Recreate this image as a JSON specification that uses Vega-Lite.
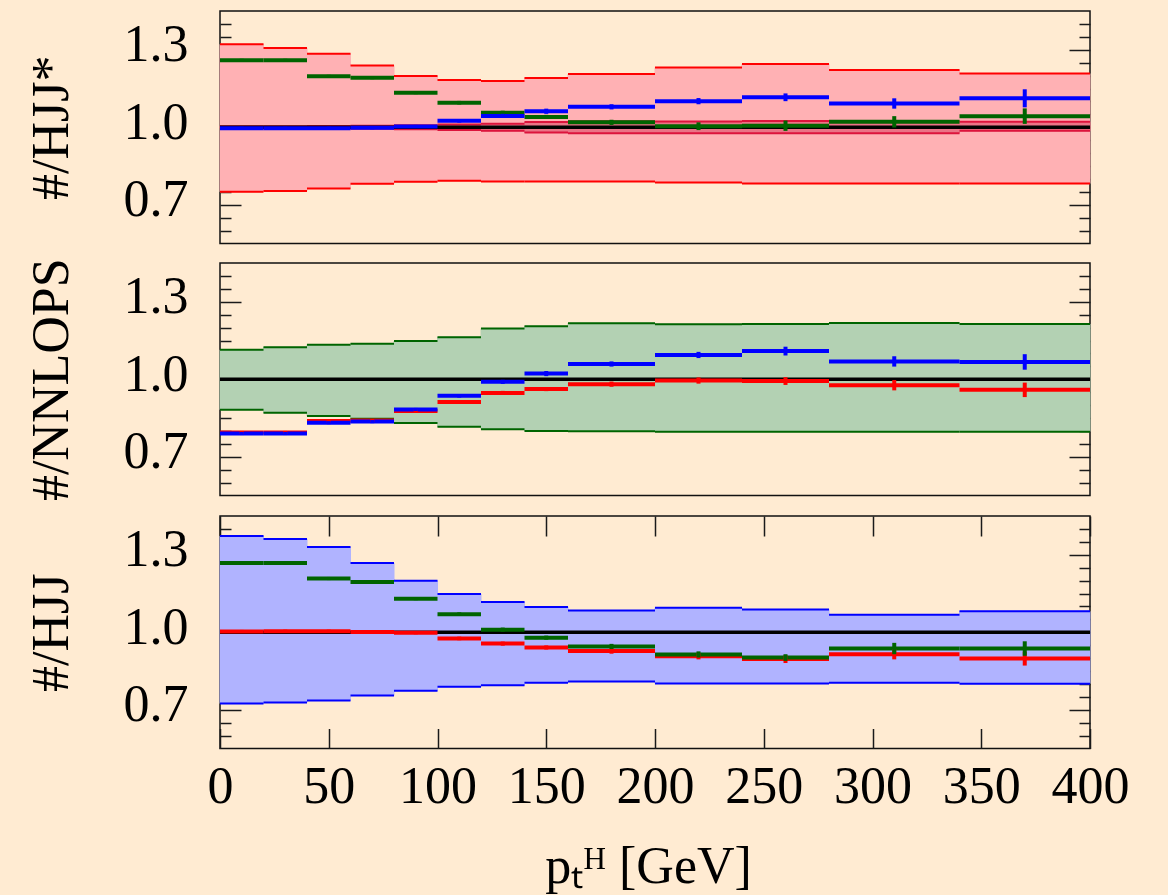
{
  "$schema": "https://vega.github.io/schema/vega-lite/v6.json",
  "background": "#FFEBD2",
  "padding": {"left": 24, "top": 10, "right": 38, "bottom": 1},
  "spacing": 12,
  "config": {
    "view": {"stroke": "#111111", "strokeWidth": 1.5},
    "axis": {"labelFont": "Liberation Serif", "titleFont": "Liberation Serif", "labelColor": "black", "titleColor": "black", "tickColor": "#1a1a1a", "tickWidth": 1.5, "domain": false, "grid": false, "labelOverlap": false, "titleFontWeight": "normal"}
  },
  "datasets": {
    "bands": [
      {"p":1,"lo":0,"hi":20,"blo":0.750,"bhi":1.321},{"p":1,"lo":20,"hi":40,"blo":0.753,"bhi":1.307},{"p":1,"lo":40,"hi":60,"blo":0.763,"bhi":1.285},{"p":1,"lo":60,"hi":80,"blo":0.781,"bhi":1.239},{"p":1,"lo":80,"hi":100,"blo":0.789,"bhi":1.198},{"p":1,"lo":100,"hi":120,"blo":0.793,"bhi":1.183},{"p":1,"lo":120,"hi":140,"blo":0.790,"bhi":1.179},{"p":1,"lo":140,"hi":160,"blo":0.790,"bhi":1.191},{"p":1,"lo":160,"hi":200,"blo":0.790,"bhi":1.206},{"p":1,"lo":200,"hi":240,"blo":0.786,"bhi":1.231},{"p":1,"lo":240,"hi":280,"blo":0.782,"bhi":1.245},{"p":1,"lo":280,"hi":340,"blo":0.782,"bhi":1.222},{"p":1,"lo":340,"hi":400,"blo":0.782,"bhi":1.208},
      {"p":2,"lo":0,"hi":20,"blo":0.882,"bhi":1.114},{"p":2,"lo":20,"hi":40,"blo":0.870,"bhi":1.124},{"p":2,"lo":40,"hi":60,"blo":0.858,"bhi":1.134},{"p":2,"lo":60,"hi":80,"blo":0.847,"bhi":1.137},{"p":2,"lo":80,"hi":100,"blo":0.831,"bhi":1.148},{"p":2,"lo":100,"hi":120,"blo":0.816,"bhi":1.163},{"p":2,"lo":120,"hi":140,"blo":0.806,"bhi":1.196},{"p":2,"lo":140,"hi":160,"blo":0.800,"bhi":1.205},{"p":2,"lo":160,"hi":200,"blo":0.799,"bhi":1.217},{"p":2,"lo":200,"hi":240,"blo":0.797,"bhi":1.213},{"p":2,"lo":240,"hi":280,"blo":0.797,"bhi":1.214},{"p":2,"lo":280,"hi":340,"blo":0.797,"bhi":1.218},{"p":2,"lo":340,"hi":400,"blo":0.797,"bhi":1.214},
      {"p":3,"lo":0,"hi":20,"blo":0.724,"bhi":1.373},{"p":3,"lo":20,"hi":40,"blo":0.728,"bhi":1.361},{"p":3,"lo":40,"hi":60,"blo":0.736,"bhi":1.330},{"p":3,"lo":60,"hi":80,"blo":0.755,"bhi":1.268},{"p":3,"lo":80,"hi":100,"blo":0.774,"bhi":1.199},{"p":3,"lo":100,"hi":120,"blo":0.789,"bhi":1.148},{"p":3,"lo":120,"hi":140,"blo":0.795,"bhi":1.117},{"p":3,"lo":140,"hi":160,"blo":0.805,"bhi":1.098},{"p":3,"lo":160,"hi":200,"blo":0.809,"bhi":1.084},{"p":3,"lo":200,"hi":240,"blo":0.802,"bhi":1.095},{"p":3,"lo":240,"hi":280,"blo":0.802,"bhi":1.088},{"p":3,"lo":280,"hi":340,"blo":0.805,"bhi":1.068},{"p":3,"lo":340,"hi":400,"blo":0.801,"bhi":1.081}
    ],
    "stat": [
      {"lo":0,"hi":20,"slo":0.996,"shi":1.004},{"lo":20,"hi":40,"slo":0.996,"shi":1.004},{"lo":40,"hi":60,"slo":0.995,"shi":1.005},{"lo":60,"hi":80,"slo":0.994,"shi":1.006},{"lo":80,"hi":100,"slo":0.992,"shi":1.008},{"lo":100,"hi":120,"slo":0.989,"shi":1.011},{"lo":120,"hi":140,"slo":0.986,"shi":1.014},{"lo":140,"hi":160,"slo":0.980,"shi":1.020},{"lo":160,"hi":200,"slo":0.977,"shi":1.023},{"lo":200,"hi":240,"slo":0.977,"shi":1.022},{"lo":240,"hi":280,"slo":0.977,"shi":1.024},{"lo":280,"hi":340,"slo":0.977,"shi":1.023},{"lo":340,"hi":400,"slo":0.986,"shi":1.021}
    ],
    "pts": [
      {"p":1,"g":"NNLOPS","lo":0,"hi":20,"mid":10,"v":1.259,"elo":1.253,"ehi":1.265},{"p":1,"g":"NNLOPS","lo":20,"hi":40,"mid":30,"v":1.259,"elo":1.253,"ehi":1.265},{"p":1,"g":"NNLOPS","lo":40,"hi":60,"mid":50,"v":1.197,"elo":1.191,"ehi":1.203},{"p":1,"g":"NNLOPS","lo":60,"hi":80,"mid":70,"v":1.192,"elo":1.186,"ehi":1.198},{"p":1,"g":"NNLOPS","lo":80,"hi":100,"mid":90,"v":1.134,"elo":1.128,"ehi":1.140},{"p":1,"g":"NNLOPS","lo":100,"hi":120,"mid":110,"v":1.095,"elo":1.088,"ehi":1.102},{"p":1,"g":"NNLOPS","lo":120,"hi":140,"mid":130,"v":1.056,"elo":1.048,"ehi":1.064},{"p":1,"g":"NNLOPS","lo":140,"hi":160,"mid":150,"v":1.040,"elo":1.032,"ehi":1.048},{"p":1,"g":"NNLOPS","lo":160,"hi":200,"mid":180,"v":1.019,"elo":1.009,"ehi":1.029},{"p":1,"g":"NNLOPS","lo":200,"hi":240,"mid":220,"v":1.004,"elo":0.989,"ehi":1.019},{"p":1,"g":"NNLOPS","lo":240,"hi":280,"mid":260,"v":1.006,"elo":0.986,"ehi":1.026},{"p":1,"g":"NNLOPS","lo":280,"hi":340,"mid":310,"v":1.021,"elo":0.999,"ehi":1.043},{"p":1,"g":"NNLOPS","lo":340,"hi":400,"mid":370,"v":1.043,"elo":1.013,"ehi":1.073},
      {"p":1,"g":"HJJ","lo":0,"hi":20,"mid":10,"v":0.996,"elo":0.990,"ehi":1.002},{"p":1,"g":"HJJ","lo":20,"hi":40,"mid":30,"v":0.996,"elo":0.990,"ehi":1.002},{"p":1,"g":"HJJ","lo":40,"hi":60,"mid":50,"v":0.996,"elo":0.990,"ehi":1.002},{"p":1,"g":"HJJ","lo":60,"hi":80,"mid":70,"v":0.998,"elo":0.992,"ehi":1.004},{"p":1,"g":"HJJ","lo":80,"hi":100,"mid":90,"v":1.003,"elo":0.997,"ehi":1.009},{"p":1,"g":"HJJ","lo":100,"hi":120,"mid":110,"v":1.025,"elo":1.018,"ehi":1.032},{"p":1,"g":"HJJ","lo":120,"hi":140,"mid":130,"v":1.044,"elo":1.036,"ehi":1.052},{"p":1,"g":"HJJ","lo":140,"hi":160,"mid":150,"v":1.062,"elo":1.052,"ehi":1.072},{"p":1,"g":"HJJ","lo":160,"hi":200,"mid":180,"v":1.079,"elo":1.069,"ehi":1.089},{"p":1,"g":"HJJ","lo":200,"hi":240,"mid":220,"v":1.101,"elo":1.089,"ehi":1.113},{"p":1,"g":"HJJ","lo":240,"hi":280,"mid":260,"v":1.116,"elo":1.101,"ehi":1.131},{"p":1,"g":"HJJ","lo":280,"hi":340,"mid":310,"v":1.092,"elo":1.072,"ehi":1.112},{"p":1,"g":"HJJ","lo":340,"hi":400,"mid":370,"v":1.112,"elo":1.077,"ehi":1.147},
      {"p":2,"g":"HJJ*","lo":0,"hi":20,"mid":10,"v":0.794,"elo":0.788,"ehi":0.800},{"p":2,"g":"HJJ*","lo":20,"hi":40,"mid":30,"v":0.794,"elo":0.788,"ehi":0.800},{"p":2,"g":"HJJ*","lo":40,"hi":60,"mid":50,"v":0.838,"elo":0.832,"ehi":0.844},{"p":2,"g":"HJJ*","lo":60,"hi":80,"mid":70,"v":0.840,"elo":0.834,"ehi":0.846},{"p":2,"g":"HJJ*","lo":80,"hi":100,"mid":90,"v":0.877,"elo":0.871,"ehi":0.883},{"p":2,"g":"HJJ*","lo":100,"hi":120,"mid":110,"v":0.912,"elo":0.905,"ehi":0.919},{"p":2,"g":"HJJ*","lo":120,"hi":140,"mid":130,"v":0.947,"elo":0.939,"ehi":0.955},{"p":2,"g":"HJJ*","lo":140,"hi":160,"mid":150,"v":0.962,"elo":0.954,"ehi":0.970},{"p":2,"g":"HJJ*","lo":160,"hi":200,"mid":180,"v":0.981,"elo":0.971,"ehi":0.991},{"p":2,"g":"HJJ*","lo":200,"hi":240,"mid":220,"v":0.995,"elo":0.983,"ehi":1.007},{"p":2,"g":"HJJ*","lo":240,"hi":280,"mid":260,"v":0.993,"elo":0.978,"ehi":1.008},{"p":2,"g":"HJJ*","lo":280,"hi":340,"mid":310,"v":0.977,"elo":0.957,"ehi":0.997},{"p":2,"g":"HJJ*","lo":340,"hi":400,"mid":370,"v":0.959,"elo":0.931,"ehi":0.987},
      {"p":2,"g":"HJJ","lo":0,"hi":20,"mid":10,"v":0.790,"elo":0.784,"ehi":0.796},{"p":2,"g":"HJJ","lo":20,"hi":40,"mid":30,"v":0.790,"elo":0.784,"ehi":0.796},{"p":2,"g":"HJJ","lo":40,"hi":60,"mid":50,"v":0.832,"elo":0.826,"ehi":0.838},{"p":2,"g":"HJJ","lo":60,"hi":80,"mid":70,"v":0.836,"elo":0.830,"ehi":0.842},{"p":2,"g":"HJJ","lo":80,"hi":100,"mid":90,"v":0.883,"elo":0.877,"ehi":0.889},{"p":2,"g":"HJJ","lo":100,"hi":120,"mid":110,"v":0.936,"elo":0.929,"ehi":0.943},{"p":2,"g":"HJJ","lo":120,"hi":140,"mid":130,"v":0.990,"elo":0.982,"ehi":0.998},{"p":2,"g":"HJJ","lo":140,"hi":160,"mid":150,"v":1.022,"elo":1.012,"ehi":1.032},{"p":2,"g":"HJJ","lo":160,"hi":200,"mid":180,"v":1.059,"elo":1.049,"ehi":1.069},{"p":2,"g":"HJJ","lo":200,"hi":240,"mid":220,"v":1.094,"elo":1.082,"ehi":1.106},{"p":2,"g":"HJJ","lo":240,"hi":280,"mid":260,"v":1.109,"elo":1.092,"ehi":1.126},{"p":2,"g":"HJJ","lo":280,"hi":340,"mid":310,"v":1.069,"elo":1.049,"ehi":1.089},{"p":2,"g":"HJJ","lo":340,"hi":400,"mid":370,"v":1.067,"elo":1.037,"ehi":1.097},
      {"p":3,"g":"HJJ*","lo":0,"hi":20,"mid":10,"v":1.003,"elo":0.997,"ehi":1.009},{"p":3,"g":"HJJ*","lo":20,"hi":40,"mid":30,"v":1.004,"elo":0.998,"ehi":1.010},{"p":3,"g":"HJJ*","lo":40,"hi":60,"mid":50,"v":1.004,"elo":0.998,"ehi":1.010},{"p":3,"g":"HJJ*","lo":60,"hi":80,"mid":70,"v":1.001,"elo":0.995,"ehi":1.007},{"p":3,"g":"HJJ*","lo":80,"hi":100,"mid":90,"v":0.998,"elo":0.992,"ehi":1.004},{"p":3,"g":"HJJ*","lo":100,"hi":120,"mid":110,"v":0.976,"elo":0.969,"ehi":0.983},{"p":3,"g":"HJJ*","lo":120,"hi":140,"mid":130,"v":0.956,"elo":0.948,"ehi":0.964},{"p":3,"g":"HJJ*","lo":140,"hi":160,"mid":150,"v":0.941,"elo":0.933,"ehi":0.949},{"p":3,"g":"HJJ*","lo":160,"hi":200,"mid":180,"v":0.927,"elo":0.917,"ehi":0.937},{"p":3,"g":"HJJ*","lo":200,"hi":240,"mid":220,"v":0.907,"elo":0.895,"ehi":0.919},{"p":3,"g":"HJJ*","lo":240,"hi":280,"mid":260,"v":0.896,"elo":0.881,"ehi":0.911},{"p":3,"g":"HJJ*","lo":280,"hi":340,"mid":310,"v":0.915,"elo":0.895,"ehi":0.935},{"p":3,"g":"HJJ*","lo":340,"hi":400,"mid":370,"v":0.898,"elo":0.871,"ehi":0.925},
      {"p":3,"g":"NNLOPS","lo":0,"hi":20,"mid":10,"v":1.268,"elo":1.262,"ehi":1.274},{"p":3,"g":"NNLOPS","lo":20,"hi":40,"mid":30,"v":1.268,"elo":1.262,"ehi":1.274},{"p":3,"g":"NNLOPS","lo":40,"hi":60,"mid":50,"v":1.208,"elo":1.202,"ehi":1.214},{"p":3,"g":"NNLOPS","lo":60,"hi":80,"mid":70,"v":1.195,"elo":1.189,"ehi":1.201},{"p":3,"g":"NNLOPS","lo":80,"hi":100,"mid":90,"v":1.130,"elo":1.124,"ehi":1.136},{"p":3,"g":"NNLOPS","lo":100,"hi":120,"mid":110,"v":1.070,"elo":1.063,"ehi":1.077},{"p":3,"g":"NNLOPS","lo":120,"hi":140,"mid":130,"v":1.010,"elo":1.002,"ehi":1.018},{"p":3,"g":"NNLOPS","lo":140,"hi":160,"mid":150,"v":0.979,"elo":0.971,"ehi":0.987},{"p":3,"g":"NNLOPS","lo":160,"hi":200,"mid":180,"v":0.945,"elo":0.935,"ehi":0.955},{"p":3,"g":"NNLOPS","lo":200,"hi":240,"mid":220,"v":0.914,"elo":0.902,"ehi":0.926},{"p":3,"g":"NNLOPS","lo":240,"hi":280,"mid":260,"v":0.902,"elo":0.889,"ehi":0.915},{"p":3,"g":"NNLOPS","lo":280,"hi":340,"mid":310,"v":0.937,"elo":0.915,"ehi":0.959},{"p":3,"g":"NNLOPS","lo":340,"hi":400,"mid":370,"v":0.937,"elo":0.909,"ehi":0.965}
    ]
  },
  "vconcat": [
    {
      "width": 870, "height": 232.5,
      "resolve": {"axis": {"x": "independent", "y": "independent"}},
      "layer": [
        {"data": {"name": "bands"}, "transform": [{"filter": "datum.p == 1"}], "mark": {"type": "rect", "fill": "#FFB1B4", "stroke": "#FFB1B4", "strokeWidth": 1},
         "encoding": {
           "x": {"field": "lo", "type": "quantitative", "scale": {"domain": [0, 400], "nice": false, "zero": false}, "axis": null},
           "x2": {"field": "hi"},
           "y": {"field": "bhi", "type": "quantitative", "scale": {"domain": [0.55, 1.45], "nice": false, "zero": false},
             "axis": {"orient": "left", "values": [0.6,0.65,0.7,0.75,0.8,0.85,0.9,0.95,1,1.05,1.1,1.15,1.2,1.25,1.3,1.35,1.4],
               "tickSize": {"condition": {"test": "abs(datum.value-0.7)<0.001 || abs(datum.value-1)<0.001 || abs(datum.value-1.3)<0.001", "value": -21}, "value": -11},
               "labelExpr": "abs(datum.value-0.7)<0.001 ? '0.7' : abs(datum.value-1)<0.001 ? '1.0' : abs(datum.value-1.3)<0.001 ? '1.3' : ''",
               "labelFontSize": {"condition": {"test": "abs(datum.value-0.7)<0.001 || abs(datum.value-1)<0.001 || abs(datum.value-1.3)<0.001", "value": 52}, "value": 0},
               "labelPadding": 53, "labelBaseline": "middle", "labelOffset": -5, "labelAlign": "right",
               "title": "#/HJJ*", "titleFontSize": 52, "titleAngle": -90, "titleX": -153, "titleY": 116.25, "titleAlign": "center", "titleBaseline": "alphabetic"}},
           "y2": {"field": "blo"}
         }},
        {"data": {"name": "bands"}, "transform": [{"filter": "datum.p == 1"}], "mark": {"type": "rule", "stroke": "#FF0000", "strokeWidth": 2},
         "encoding": {"x": {"field": "lo", "type": "quantitative", "scale": {"domain": [0, 400], "nice": false, "zero": false}, "axis": null}, "x2": {"field": "hi"},
           "y": {"field": "bhi", "type": "quantitative", "scale": {"domain": [0.55, 1.45], "nice": false, "zero": false}, "axis": null}}},
        {"data": {"name": "bands"}, "transform": [{"filter": "datum.p == 1"}], "mark": {"type": "rule", "stroke": "#FF0000", "strokeWidth": 2},
         "encoding": {"x": {"field": "lo", "type": "quantitative", "scale": {"domain": [0, 400], "nice": false, "zero": false}, "axis": null}, "x2": {"field": "hi"},
           "y": {"field": "blo", "type": "quantitative", "scale": {"domain": [0.55, 1.45], "nice": false, "zero": false}, "axis": null}}},
        {"data": {"name": "stat"}, "mark": {"type": "rect", "fill": "#EA7486", "stroke": "#EA7486", "strokeWidth": 1},
         "encoding": {"x": {"field": "lo", "type": "quantitative", "scale": {"domain": [0, 400], "nice": false, "zero": false}, "axis": null}, "x2": {"field": "hi"},
           "y": {"field": "shi", "type": "quantitative", "scale": {"domain": [0.55, 1.45], "nice": false, "zero": false}, "axis": null}, "y2": {"field": "slo"}}},
        {"data": {"name": "stat"}, "mark": {"type": "rule", "stroke": "#DC143C", "strokeWidth": 2},
         "encoding": {"x": {"field": "lo", "type": "quantitative", "scale": {"domain": [0, 400], "nice": false, "zero": false}, "axis": null}, "x2": {"field": "hi"},
           "y": {"field": "shi", "type": "quantitative", "scale": {"domain": [0.55, 1.45], "nice": false, "zero": false}, "axis": null}}},
        {"data": {"name": "stat"}, "mark": {"type": "rule", "stroke": "#DC143C", "strokeWidth": 2},
         "encoding": {"x": {"field": "lo", "type": "quantitative", "scale": {"domain": [0, 400], "nice": false, "zero": false}, "axis": null}, "x2": {"field": "hi"},
           "y": {"field": "slo", "type": "quantitative", "scale": {"domain": [0.55, 1.45], "nice": false, "zero": false}, "axis": null}}},
        {"data": {"values": [{"ref": 1}]}, "mark": {"type": "rule", "stroke": "#000000", "strokeWidth": 3.4},
         "encoding": {"y": {"field": "ref", "type": "quantitative", "scale": {"domain": [0.55, 1.45], "nice": false, "zero": false},
           "axis": {"orient": "right", "values": [0.6,0.65,0.7,0.75,0.8,0.85,0.9,0.95,1,1.05,1.1,1.15,1.2,1.25,1.3,1.35,1.4],
             "tickSize": {"condition": {"test": "abs(datum.value-0.7)<0.001 || abs(datum.value-1)<0.001 || abs(datum.value-1.3)<0.001", "value": -21}, "value": -11},
             "labels": false, "title": null}}}},
        {"data": {"name": "pts"}, "transform": [{"filter": "datum.p == 1"}], "mark": {"type": "rule", "strokeWidth": 4},
         "encoding": {"x": {"field": "lo", "type": "quantitative", "scale": {"domain": [0, 400], "nice": false, "zero": false}, "axis": null}, "x2": {"field": "hi"},
           "y": {"field": "v", "type": "quantitative", "scale": {"domain": [0.55, 1.45], "nice": false, "zero": false}, "axis": null},
           "color": {"field": "g", "type": "nominal", "scale": {"domain": ["HJJ*", "NNLOPS", "HJJ"], "range": ["#FF0000", "#006400", "#0000FF"]}, "legend": null}}},
        {"data": {"name": "pts"}, "transform": [{"filter": "datum.p == 1"}], "mark": {"type": "rule", "strokeWidth": 4},
         "encoding": {"x": {"field": "mid", "type": "quantitative", "scale": {"domain": [0, 400], "nice": false, "zero": false}, "axis": null},
           "y": {"field": "elo", "type": "quantitative", "scale": {"domain": [0.55, 1.45], "nice": false, "zero": false}, "axis": null}, "y2": {"field": "ehi"},
           "color": {"field": "g", "type": "nominal", "scale": {"domain": ["HJJ*", "NNLOPS", "HJJ"], "range": ["#FF0000", "#006400", "#0000FF"]}, "legend": null}}}
      ]
    },
    {
      "width": 870, "height": 232.5,
      "resolve": {"axis": {"x": "independent", "y": "independent"}},
      "layer": [
        {"data": {"name": "bands"}, "transform": [{"filter": "datum.p == 2"}], "mark": {"type": "rect", "fill": "#B3D1B3", "stroke": "#B3D1B3", "strokeWidth": 1},
         "encoding": {
           "x": {"field": "lo", "type": "quantitative", "scale": {"domain": [0, 400], "nice": false, "zero": false}, "axis": null},
           "x2": {"field": "hi"},
           "y": {"field": "bhi", "type": "quantitative", "scale": {"domain": [0.55, 1.45], "nice": false, "zero": false},
             "axis": {"orient": "left", "values": [0.6,0.65,0.7,0.75,0.8,0.85,0.9,0.95,1,1.05,1.1,1.15,1.2,1.25,1.3,1.35,1.4],
               "tickSize": {"condition": {"test": "abs(datum.value-0.7)<0.001 || abs(datum.value-1)<0.001 || abs(datum.value-1.3)<0.001", "value": -21}, "value": -11},
               "labelExpr": "abs(datum.value-0.7)<0.001 ? '0.7' : abs(datum.value-1)<0.001 ? '1.0' : abs(datum.value-1.3)<0.001 ? '1.3' : ''",
               "labelFontSize": {"condition": {"test": "abs(datum.value-0.7)<0.001 || abs(datum.value-1)<0.001 || abs(datum.value-1.3)<0.001", "value": 52}, "value": 0},
               "labelPadding": 53, "labelBaseline": "middle", "labelOffset": -5, "labelAlign": "right",
               "title": "#/NNLOPS", "titleFontSize": 52, "titleAngle": -90, "titleX": -153, "titleY": 116.25, "titleAlign": "center", "titleBaseline": "alphabetic"}},
           "y2": {"field": "blo"}
         }},
        {"data": {"name": "bands"}, "transform": [{"filter": "datum.p == 2"}], "mark": {"type": "rule", "stroke": "#006400", "strokeWidth": 2},
         "encoding": {"x": {"field": "lo", "type": "quantitative", "scale": {"domain": [0, 400], "nice": false, "zero": false}, "axis": null}, "x2": {"field": "hi"},
           "y": {"field": "bhi", "type": "quantitative", "scale": {"domain": [0.55, 1.45], "nice": false, "zero": false}, "axis": null}}},
        {"data": {"name": "bands"}, "transform": [{"filter": "datum.p == 2"}], "mark": {"type": "rule", "stroke": "#006400", "strokeWidth": 2},
         "encoding": {"x": {"field": "lo", "type": "quantitative", "scale": {"domain": [0, 400], "nice": false, "zero": false}, "axis": null}, "x2": {"field": "hi"},
           "y": {"field": "blo", "type": "quantitative", "scale": {"domain": [0.55, 1.45], "nice": false, "zero": false}, "axis": null}}},
        {"data": {"values": [{"ref": 1}]}, "mark": {"type": "rule", "stroke": "#000000", "strokeWidth": 3.4},
         "encoding": {"y": {"field": "ref", "type": "quantitative", "scale": {"domain": [0.55, 1.45], "nice": false, "zero": false},
           "axis": {"orient": "right", "values": [0.6,0.65,0.7,0.75,0.8,0.85,0.9,0.95,1,1.05,1.1,1.15,1.2,1.25,1.3,1.35,1.4],
             "tickSize": {"condition": {"test": "abs(datum.value-0.7)<0.001 || abs(datum.value-1)<0.001 || abs(datum.value-1.3)<0.001", "value": -21}, "value": -11},
             "labels": false, "title": null}}}},
        {"data": {"name": "pts"}, "transform": [{"filter": "datum.p == 2"}], "mark": {"type": "rule", "strokeWidth": 4},
         "encoding": {"x": {"field": "lo", "type": "quantitative", "scale": {"domain": [0, 400], "nice": false, "zero": false}, "axis": null}, "x2": {"field": "hi"},
           "y": {"field": "v", "type": "quantitative", "scale": {"domain": [0.55, 1.45], "nice": false, "zero": false}, "axis": null},
           "color": {"field": "g", "type": "nominal", "scale": {"domain": ["HJJ*", "NNLOPS", "HJJ"], "range": ["#FF0000", "#006400", "#0000FF"]}, "legend": null}}},
        {"data": {"name": "pts"}, "transform": [{"filter": "datum.p == 2"}], "mark": {"type": "rule", "strokeWidth": 4},
         "encoding": {"x": {"field": "mid", "type": "quantitative", "scale": {"domain": [0, 400], "nice": false, "zero": false}, "axis": null},
           "y": {"field": "elo", "type": "quantitative", "scale": {"domain": [0.55, 1.45], "nice": false, "zero": false}, "axis": null}, "y2": {"field": "ehi"},
           "color": {"field": "g", "type": "nominal", "scale": {"domain": ["HJJ*", "NNLOPS", "HJJ"], "range": ["#FF0000", "#006400", "#0000FF"]}, "legend": null}}}
      ]
    },
    {
      "width": 870, "height": 232.5,
      "resolve": {"axis": {"x": "independent", "y": "independent"}},
      "layer": [
        {"data": {"name": "bands"}, "transform": [{"filter": "datum.p == 3"}], "mark": {"type": "rect", "fill": "#B0B3FF", "stroke": "#B0B3FF", "strokeWidth": 1},
         "encoding": {
           "x": {"field": "lo", "type": "quantitative", "scale": {"domain": [0, 400], "nice": false, "zero": false},
             "axis": {"orient": "bottom", "values": [0,50,100,150,200,250,300,350,400], "tickSize": -20, "labelFontSize": 52, "labelPadding": 33, "labelFlush": false, "labelBaseline": "top",
               "title": "pₜᴴ [GeV]", "titleFontSize": 52, "titleX": 428, "titleY": 134, "titleAlign": "center", "titleBaseline": "alphabetic"}},
           "x2": {"field": "hi"},
           "y": {"field": "bhi", "type": "quantitative", "scale": {"domain": [0.55, 1.45], "nice": false, "zero": false},
             "axis": {"orient": "left", "values": [0.6,0.65,0.7,0.75,0.8,0.85,0.9,0.95,1,1.05,1.1,1.15,1.2,1.25,1.3,1.35,1.4],
               "tickSize": {"condition": {"test": "abs(datum.value-0.7)<0.001 || abs(datum.value-1)<0.001 || abs(datum.value-1.3)<0.001", "value": -21}, "value": -11},
               "labelExpr": "abs(datum.value-0.7)<0.001 ? '0.7' : abs(datum.value-1)<0.001 ? '1.0' : abs(datum.value-1.3)<0.001 ? '1.3' : ''",
               "labelFontSize": {"condition": {"test": "abs(datum.value-0.7)<0.001 || abs(datum.value-1)<0.001 || abs(datum.value-1.3)<0.001", "value": 52}, "value": 0},
               "labelPadding": 53, "labelBaseline": "middle", "labelOffset": -5, "labelAlign": "right",
               "title": "#/HJJ", "titleFontSize": 52, "titleAngle": -90, "titleX": -153, "titleY": 116.25, "titleAlign": "center", "titleBaseline": "alphabetic"}},
           "y2": {"field": "blo"}
         }},
        {"data": {"name": "bands"}, "transform": [{"filter": "datum.p == 3"}], "mark": {"type": "rule", "stroke": "#0000FF", "strokeWidth": 2},
         "encoding": {"x": {"field": "lo", "type": "quantitative", "scale": {"domain": [0, 400], "nice": false, "zero": false},
             "axis": {"orient": "top", "values": [0,50,100,150,200,250,300,350,400], "tickSize": -20, "labels": false, "title": null}}, "x2": {"field": "hi"},
           "y": {"field": "bhi", "type": "quantitative", "scale": {"domain": [0.55, 1.45], "nice": false, "zero": false}, "axis": null}}},
        {"data": {"name": "bands"}, "transform": [{"filter": "datum.p == 3"}], "mark": {"type": "rule", "stroke": "#0000FF", "strokeWidth": 2},
         "encoding": {"x": {"field": "lo", "type": "quantitative", "scale": {"domain": [0, 400], "nice": false, "zero": false}, "axis": null}, "x2": {"field": "hi"},
           "y": {"field": "blo", "type": "quantitative", "scale": {"domain": [0.55, 1.45], "nice": false, "zero": false}, "axis": null}}},
        {"data": {"values": [{"ref": 1}]}, "mark": {"type": "rule", "stroke": "#000000", "strokeWidth": 3.4},
         "encoding": {"y": {"field": "ref", "type": "quantitative", "scale": {"domain": [0.55, 1.45], "nice": false, "zero": false},
           "axis": {"orient": "right", "values": [0.6,0.65,0.7,0.75,0.8,0.85,0.9,0.95,1,1.05,1.1,1.15,1.2,1.25,1.3,1.35,1.4],
             "tickSize": {"condition": {"test": "abs(datum.value-0.7)<0.001 || abs(datum.value-1)<0.001 || abs(datum.value-1.3)<0.001", "value": -21}, "value": -11},
             "labels": false, "title": null}}}},
        {"data": {"name": "pts"}, "transform": [{"filter": "datum.p == 3"}], "mark": {"type": "rule", "strokeWidth": 4},
         "encoding": {"x": {"field": "lo", "type": "quantitative", "scale": {"domain": [0, 400], "nice": false, "zero": false}, "axis": null}, "x2": {"field": "hi"},
           "y": {"field": "v", "type": "quantitative", "scale": {"domain": [0.55, 1.45], "nice": false, "zero": false}, "axis": null},
           "color": {"field": "g", "type": "nominal", "scale": {"domain": ["HJJ*", "NNLOPS", "HJJ"], "range": ["#FF0000", "#006400", "#0000FF"]}, "legend": null}}},
        {"data": {"name": "pts"}, "transform": [{"filter": "datum.p == 3"}], "mark": {"type": "rule", "strokeWidth": 4},
         "encoding": {"x": {"field": "mid", "type": "quantitative", "scale": {"domain": [0, 400], "nice": false, "zero": false}, "axis": null},
           "y": {"field": "elo", "type": "quantitative", "scale": {"domain": [0.55, 1.45], "nice": false, "zero": false}, "axis": null}, "y2": {"field": "ehi"},
           "color": {"field": "g", "type": "nominal", "scale": {"domain": ["HJJ*", "NNLOPS", "HJJ"], "range": ["#FF0000", "#006400", "#0000FF"]}, "legend": null}}}
      ]
    }
  ]
}
